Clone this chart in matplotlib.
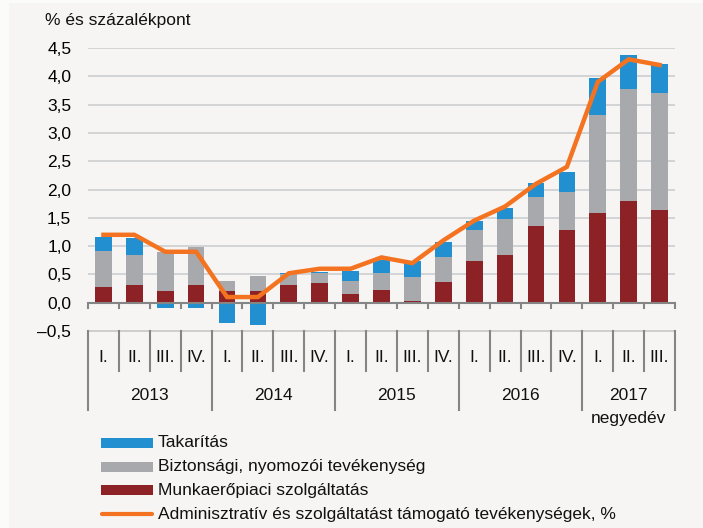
import matplotlib
matplotlib.use("Agg")
import matplotlib.pyplot as plt
from matplotlib import font_manager
from matplotlib.patches import Rectangle
from matplotlib.lines import Line2D
from matplotlib.transforms import blended_transform_factory
import numpy as np

# ---- data ----
years = ["2013", "2014", "2015", "2016", "2017"]
quarters = ["I.", "II.", "III.", "IV.",
            "I.", "II.", "III.", "IV.",
            "I.", "II.", "III.", "IV.",
            "I.", "II.", "III.", "IV.",
            "I.", "II.", "III."]
munkaero = [0.27, 0.31, 0.21, 0.31, 0.21, 0.21, 0.31, 0.34, 0.16, 0.22, 0.03, 0.36,
            0.73, 0.85, 1.35, 1.28, 1.59, 1.79, 1.63]
biztonsagi = [0.64, 0.54, 0.68, 0.67, 0.18, 0.27, 0.20, 0.18, 0.22, 0.31, 0.43, 0.44,
              0.55, 0.62, 0.52, 0.68, 1.72, 1.99, 2.07]
takaritas = [0.25, 0.29, -0.10, -0.10, -0.35, -0.39, 0.02, 0.03, 0.18, 0.22, 0.27, 0.27,
             0.16, 0.21, 0.25, 0.35, 0.66, 0.60, 0.52]
admin = [1.2, 1.2, 0.9, 0.9, 0.1, 0.1, 0.52, 0.6, 0.6, 0.8, 0.7, 1.1,
         1.45, 1.7, 2.1, 2.4, 3.9, 4.3, 4.2]
yticks = [-0.5, 0.0, 0.5, 1.0, 1.5, 2.0, 2.5, 3.0, 3.5, 4.0, 4.5]
ylabel = "% és százalékpont"
xlabel_unit = "negyedév"
legend_labels = ["Takarítás", "Biztonsági, nyomozói tevékenység",
                 "Munkaerőpiaci szolgáltatás",
                 "Adminisztratív és szolgáltatást támogató tevékenységek, %"]

# ---- style ----
avail = {f.name for f in font_manager.fontManager.ttflist}
if "Liberation Sans Narrow" in avail:
    FONT = ["Liberation Sans Narrow", "DejaVu Sans"]
    FS = 15
else:
    FONT = ["Liberation Sans", "DejaVu Sans"]
    FS = 12.5
plt.rcParams["font.family"] = FONT

C_BLUE = "#2290d0"
C_GRAY = "#a7a9ac"
C_RED = "#8c2126"
C_ORANGE = "#f47321"
C_GRID = "#c9cacd"
C_AX = "#858585"
BG = "#f6f5f3"

W, H = 703, 528
fig = plt.figure(figsize=(W / 100, H / 100), dpi=100, facecolor="#fbfbfa")
fig.patches.append(Rectangle((9 / W, 0), 1 - 9 / W, 1 - 3 / H, transform=fig.transFigure,
                             facecolor=BG, edgecolor="none", zorder=-10))

def fy(p):  # pixel-from-top -> figure fraction
    return 1 - p / H

left, right, top, bottom = 88, 675, 48, 331
ax = fig.add_axes([left / W, fy(bottom), (right - left) / W, (bottom - top) / H])
ax.set_facecolor("none")
n = len(quarters)
x = np.arange(n)
ax.set_xlim(-0.5, n - 0.5)
ax.set_ylim(-0.5, 4.5)

for s in ax.spines.values():
    s.set_visible(False)

# gridlines
for yv in yticks:
    if yv > 0:
        ax.axhline(yv, color=C_GRID, lw=1.1, zorder=0)
ax.axhline(-0.5, color=C_GRID, lw=1.3, zorder=0, clip_on=False)

bw = 0.54
red = np.array(munkaero)
gray = np.array(biztonsagi)
blue = np.array(takaritas)
ax.bar(x, red, bw, color=C_RED, zorder=2)
ax.bar(x, gray, bw, bottom=red, color=C_GRAY, zorder=2)
blue_bottom = np.where(blue >= 0, red + gray, 0)
ax.bar(x, blue, bw, bottom=blue_bottom, color=C_BLUE, zorder=2)

ax.plot(x, admin, color=C_ORANGE, lw=3.2, zorder=4, solid_joinstyle="miter")

# zero axis line
ax.axhline(0, color=C_AX, lw=1.5, zorder=3)

ax.set_yticks(yticks)
ax.set_yticklabels([("–" if v < 0 else "") + f"{abs(v):.1f}".replace(".", ",") for v in yticks],
                   fontsize=FS)
ax.tick_params(axis="y", length=0, pad=12)
ax.set_xticks([])

# category axis drawn below
tr = blended_transform_factory(ax.transData, fig.transFigure)
bounds = np.arange(n + 1) - 0.5
for i, b in enumerate(bounds):
    # small ticks at zero line
    ax.plot([b, b], [0, -0.09], color=C_AX, lw=1.5, zorder=3, clip_on=False)
    is_year = (i % 4 == 0) or i == n
    y_end = 410 if is_year else 371
    fig.add_artist(Line2D([b, b], [fy(331), fy(y_end)], transform=tr, color=C_AX, lw=1.5))

for i, q in enumerate(quarters):
    fig.text(i, fy(358), q, transform=tr, ha="center", va="center", fontsize=FS, color="#111111")
for k, yr in enumerate(years):
    start = 4 * k
    end = min(4 * k + 3, n - 1)
    fig.text((start + end) / 2, fy(396), yr, transform=tr, ha="center", va="center",
             fontsize=FS, color="#111111")
fig.text(17, fy(418), xlabel_unit, transform=tr, ha="center", va="center", fontsize=FS,
         color="#111111")

fig.text(45 / W, fy(20), ylabel, ha="left", va="center", fontsize=FS, color="#111111")

# legend
rows = [442.7, 466.5, 490.2, 514]
colors = [C_BLUE, C_GRAY, C_RED]
for r, c in zip(rows[:3], colors):
    fig.patches.append(Rectangle((101 / W, fy(r + 5)), 52 / W, 10 / H, transform=fig.transFigure,
                                 facecolor=c, edgecolor="none"))
fig.add_artist(Line2D([102 / W, 152 / W], [fy(rows[3]), fy(rows[3])], transform=fig.transFigure,
                      color=C_ORANGE, lw=3.0, solid_capstyle="round"))
for r, lab in zip(rows, legend_labels):
    fig.text(158 / W, fy(r), lab, ha="left", va="center", fontsize=FS, color="#111111")

fig.savefig("out.png", dpi=100, facecolor=fig.get_facecolor())
